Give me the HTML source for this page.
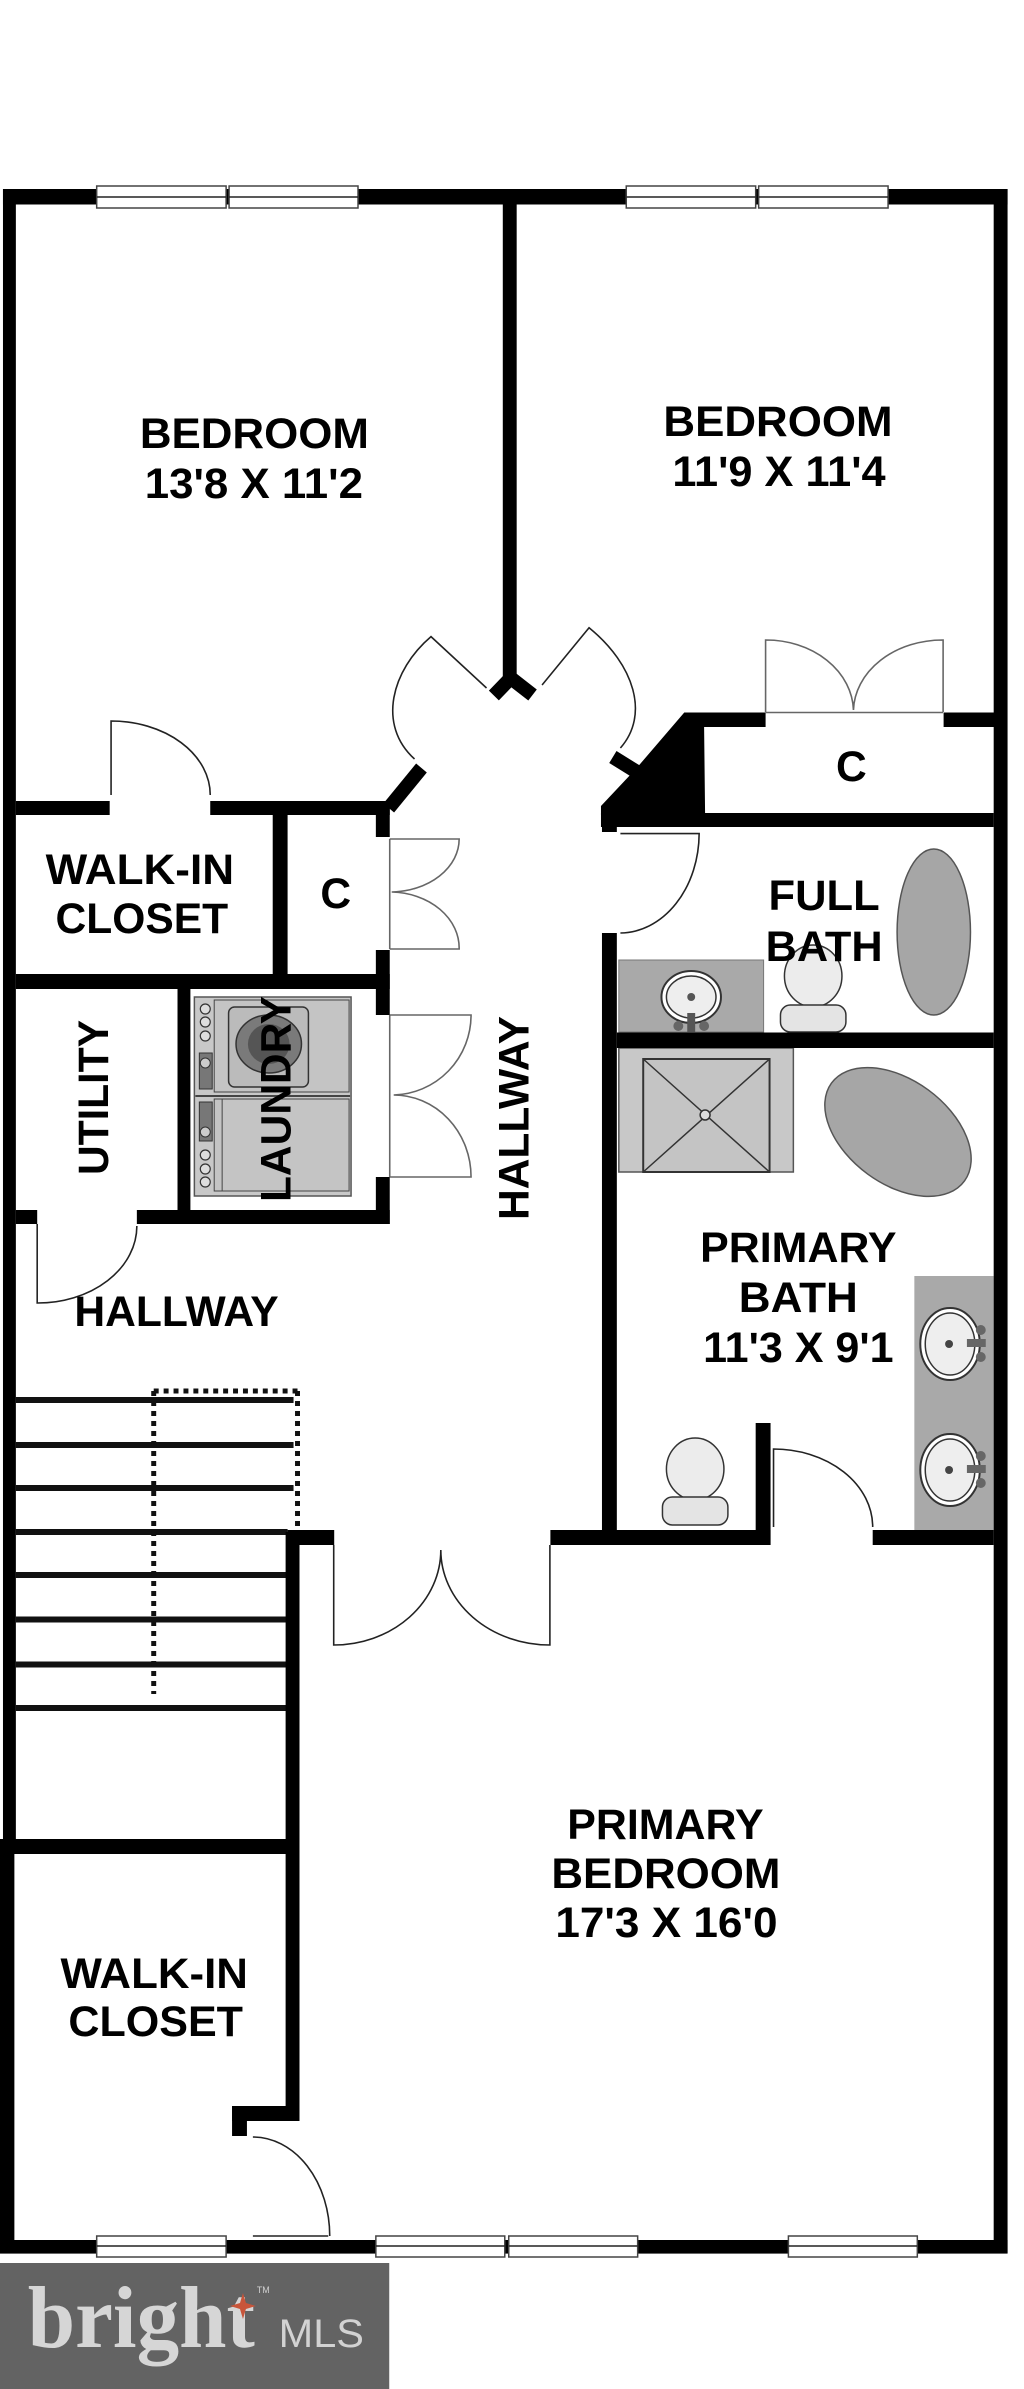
<!DOCTYPE html>
<html><head><meta charset="utf-8">
<style>
html,body{margin:0;padding:0;background:#fff}
svg{display:block}
text{font-family:"Liberation Sans",sans-serif;font-weight:bold;font-size:43px;fill:#000}
</style></head><body>
<svg width="1024" height="2389" viewBox="0 0 1024 2389" xmlns="http://www.w3.org/2000/svg">
<rect width="1024" height="2389" fill="#fff"/>
<g transform="scale(0.9917 1)">

<!-- fixtures -->
<rect x="624" y="960" width="146" height="72" fill="#a9a9a9" stroke="#777"/>
<ellipse cx="697" cy="997" rx="30" ry="26" fill="#fff" stroke="#333" stroke-width="2"/>
<ellipse cx="697" cy="997" rx="25" ry="21" fill="#eee" stroke="#333" stroke-width="1.5"/>
<circle cx="697" cy="997" r="4" fill="#555"/>
<rect x="693" y="1013" width="8" height="19" fill="#555"/>
<circle cx="684" cy="1026" r="5" fill="#666"/><circle cx="710" cy="1026" r="5" fill="#666"/>
<ellipse cx="941.6" cy="932" rx="37" ry="83" fill="#a6a6a6" stroke="#555" stroke-width="1.5"/>
<ellipse cx="820" cy="976" rx="29" ry="31" fill="#ececec" stroke="#333" stroke-width="1.5"/>
<rect x="787" y="1005" width="66" height="27" rx="10" fill="#e4e4e4" stroke="#333" stroke-width="1.5"/>

<rect x="624" y="1048" width="176" height="124" fill="#c8c8c8" stroke="#555" stroke-width="1.5"/>
<rect x="648.6" y="1059" width="127.4" height="113" fill="#c4c4c4" stroke="#333" stroke-width="2"/>
<path d="M648.6 1059L776 1172M776 1059L648.6 1172" stroke="#333" stroke-width="1.5"/>
<circle cx="711" cy="1115" r="5" fill="#ddd" stroke="#333" stroke-width="1.5"/>
<ellipse cx="905.5" cy="1132" rx="83" ry="52" transform="rotate(36 905.5 1132)" fill="#a6a6a6" stroke="#555" stroke-width="1.5"/>

<rect x="922" y="1276" width="80" height="254" fill="#a9a9a9"/>
<ellipse cx="958" cy="1344" rx="30" ry="36" fill="#fff" stroke="#333" stroke-width="2"/>
<ellipse cx="958" cy="1344" rx="25" ry="31" fill="#eee" stroke="#333" stroke-width="1.5"/>
<circle cx="957" cy="1344" r="4" fill="#444"/>
<rect x="975" y="1339" width="19" height="8" fill="#666"/>
<circle cx="989" cy="1330" r="5" fill="#666"/><circle cx="989" cy="1357" r="5" fill="#666"/>
<ellipse cx="958" cy="1470" rx="30" ry="36" fill="#fff" stroke="#333" stroke-width="2"/>
<ellipse cx="958" cy="1470" rx="25" ry="31" fill="#eee" stroke="#333" stroke-width="1.5"/>
<circle cx="957" cy="1470" r="4" fill="#444"/>
<rect x="975" y="1465" width="19" height="8" fill="#666"/>
<circle cx="989" cy="1456" r="5" fill="#666"/><circle cx="989" cy="1483" r="5" fill="#666"/>
<ellipse cx="701" cy="1469" rx="29" ry="31" fill="#ececec" stroke="#333" stroke-width="1.5"/>
<rect x="668" y="1497" width="66" height="28" rx="10" fill="#e4e4e4" stroke="#333" stroke-width="1.5"/>

<!-- laundry -->
<rect x="196" y="997" width="158" height="199" fill="#c8c8c8" stroke="#555" stroke-width="1.5"/>
<rect x="216" y="1000" width="136" height="92" fill="#c4c4c4" stroke="#444"/>
<rect x="216" y="1099" width="136" height="92" fill="#c4c4c4" stroke="#444"/>
<line x1="224" y1="1099" x2="224" y2="1191" stroke="#444"/>
<line x1="197" y1="1096" x2="353" y2="1096" stroke="#444" stroke-width="2"/>
<rect x="230.5" y="1007" width="80.5" height="80" rx="6" fill="#bbb" stroke="#333" stroke-width="1.5"/>
<ellipse cx="271" cy="1044" rx="33" ry="29" fill="#7a7a7a" stroke="#333" stroke-width="1.5"/>
<ellipse cx="271" cy="1044" rx="21" ry="20" fill="#555"/>
<g fill="#ddd" stroke="#333" stroke-width="1.2">
<circle cx="207" cy="1009" r="5"/><circle cx="207" cy="1022" r="5"/><circle cx="207" cy="1036" r="5"/>
<circle cx="207" cy="1155" r="5"/><circle cx="207" cy="1169" r="5"/><circle cx="207" cy="1182" r="5"/>
</g>
<rect x="201" y="1053" width="13" height="36" fill="#777" stroke="#333"/>
<rect x="201" y="1102" width="13" height="39" fill="#777" stroke="#333"/>
<circle cx="207" cy="1063" r="5" fill="#ccc" stroke="#333"/>
<circle cx="207" cy="1132" r="5" fill="#ccc" stroke="#333"/>

<!-- stairs -->
<g stroke="#111" stroke-width="6">
<path d="M16 1400H296M16 1445H296M16 1488H296M16 1532H290M16 1575H290M16 1619.5H290M16 1664.5H290M16 1708H290"/>
</g>
<g fill="none" stroke="#111" stroke-width="5" stroke-dasharray="5 5">
<path d="M155 1391H303"/>
<path d="M300 1391V1535"/>
<path d="M155 1391V1694"/>
</g>

<!-- door leaves and arcs -->
<g fill="none" stroke="#222" stroke-width="1.6">
<path d="M490.6 688L434.6 636.6C395 670 380 725 418 759"/>
<path d="M546.6 685L594 627.7C640 665 655 715 625.6 748"/>
<path d="M112 795V721A100 74 0 0 1 212 795"/>
<path d="M625.6 833.6H705A80 100 0 0 1 625.6 933"/>
<path d="M780 1527V1449A100 78 0 0 1 880 1527"/>
<path d="M37.5 1224V1303A100 77 0 0 0 138 1226"/>
<path d="M336.5 1545V1645A108 95 0 0 0 444.5 1550A110 95 0 0 0 554.5 1645V1545"/>
<path d="M255 2236H331M255 2137A77.5 99 0 0 1 332.5 2236"/>
</g>
<g fill="none" stroke="#666" stroke-width="1.6">
<path d="M772 712V640A88 72 0 0 1 860.6 710A90 72 0 0 1 951 640V712M772 712.500H951"/>
<path d="M393 839V949M393 839H463A70 53 0 0 1 395 892A70 56 0 0 1 463 949H393"/>
<path d="M393 1015V1177M393 1015H475A80 80 0 0 1 397 1095A78 82 0 0 1 475 1177H393"/>
</g>

<!-- walls -->
<g fill="#000">
<rect x="3" y="189" width="1013" height="15.500"/>
<rect x="3" y="189" width="13" height="1650"/>
<rect x="1002" y="189" width="14" height="2064"/>
<rect x="507" y="189" width="14" height="490"/>
<rect x="0" y="1839" width="14.500" height="414"/>
<rect x="0" y="1839" width="290" height="15"/>
<rect x="0" y="2240" width="1016" height="13.600"/>
<rect x="16" y="801" width="94.600" height="14"/>
<rect x="212" y="801" width="181" height="14"/>
<rect x="275" y="801" width="15" height="180"/>
<rect x="16" y="974" width="377" height="15"/>
<rect x="379" y="801" width="14" height="36"/>
<rect x="379" y="950" width="14" height="65"/>
<rect x="379" y="1177" width="14" height="47"/>
<rect x="138" y="1210" width="255" height="14"/>
<rect x="16" y="1210" width="21.500" height="14"/>
<rect x="179" y="989" width="13" height="235"/>
<rect x="690" y="712.500" width="82" height="14.500"/>
<rect x="951.500" y="712.500" width="52" height="14.500"/>
<polygon points="690,712.500 710,727 711,815 606,815 606,806 642,768"/>
<rect x="606" y="813" width="396" height="14"/>
<rect x="607" y="813" width="15" height="19"/>
<rect x="607" y="933" width="15" height="612"/>
<rect x="622" y="1032.500" width="380" height="15.500"/>
<rect x="762" y="1423" width="15" height="122"/>
<rect x="555" y="1530" width="222" height="15"/>
<rect x="880" y="1530" width="122" height="15"/>
<rect x="290" y="1530" width="47" height="15"/>
<rect x="288" y="1532" width="14" height="589"/>
<rect x="234" y="2106" width="68" height="15"/>
<rect x="234" y="2106" width="15" height="30"/>
</g>
<g fill="none" stroke="#000" stroke-width="14">
<path d="M498 695.500L515 678L537 695"/>
<path d="M425 768L392 808"/>
<path d="M618 757L644 773"/>
</g>

<!-- windows -->
<g fill="#fff" stroke="#444" stroke-width="1.500">
<rect x="97.500" y="186" width="130.500" height="22"/><rect x="231" y="186" width="130" height="22"/>
<rect x="631.500" y="186" width="130.500" height="22"/><rect x="765" y="186" width="130.500" height="22"/>
<rect x="97.500" y="2236" width="130.500" height="21"/><rect x="379" y="2236" width="130" height="21"/>
<rect x="513" y="2236" width="130" height="21"/><rect x="795" y="2236" width="130" height="21"/>
</g>
<g stroke="#222" stroke-width="1.500">
<path d="M97.500 197H228M231 197H361M631.500 197H762M765 197H895.500"/>
<path d="M97.500 2246H228M379 2246H509M513 2246H643M795 2246H925"/>
</g>

<!-- labels -->
<text x="141" y="448" textLength="231" lengthAdjust="spacingAndGlyphs">BEDROOM</text>
<text x="146" y="498" textLength="220" lengthAdjust="spacingAndGlyphs">13'8 X 11'2</text>
<text x="669" y="436" textLength="231" lengthAdjust="spacingAndGlyphs">BEDROOM</text>
<text x="678" y="486" textLength="215" lengthAdjust="spacingAndGlyphs">11'9 X 11'4</text>
<text x="843" y="781" textLength="31" lengthAdjust="spacingAndGlyphs">C</text>
<text x="46" y="884" textLength="190" lengthAdjust="spacingAndGlyphs">WALK-IN</text>
<text x="56" y="933" textLength="174" lengthAdjust="spacingAndGlyphs">CLOSET</text>
<text x="323" y="908" textLength="31" lengthAdjust="spacingAndGlyphs">C</text>
<text x="775" y="910" textLength="112" lengthAdjust="spacingAndGlyphs">FULL</text>
<text x="772" y="961" textLength="118" lengthAdjust="spacingAndGlyphs">BATH</text>
<text x="706" y="1262" textLength="198" lengthAdjust="spacingAndGlyphs">PRIMARY</text>
<text x="745" y="1312" textLength="120" lengthAdjust="spacingAndGlyphs">BATH</text>
<text x="709" y="1362" textLength="192" lengthAdjust="spacingAndGlyphs">11'3 X 9'1</text>
<text x="75" y="1326" textLength="206" lengthAdjust="spacingAndGlyphs">HALLWAY</text>
<text transform="translate(109 1175) rotate(-90)" textLength="155" lengthAdjust="spacingAndGlyphs">UTILITY</text>
<text transform="translate(293 1202) rotate(-90)" textLength="206" lengthAdjust="spacingAndGlyphs">LAUNDRY</text>
<text transform="translate(533 1220) rotate(-90)" textLength="204" lengthAdjust="spacingAndGlyphs">HALLWAY</text>
<text x="572" y="1839" textLength="198" lengthAdjust="spacingAndGlyphs">PRIMARY</text>
<text x="556" y="1888" textLength="231" lengthAdjust="spacingAndGlyphs">BEDROOM</text>
<text x="560" y="1937" textLength="224" lengthAdjust="spacingAndGlyphs">17'3 X 16'0</text>
<text x="61" y="1988" textLength="189" lengthAdjust="spacingAndGlyphs">WALK-IN</text>
<text x="69" y="2036" textLength="176" lengthAdjust="spacingAndGlyphs">CLOSET</text>

<!-- logo -->
<rect x="0" y="2263" width="392.500" height="126" fill="#636363"/>
<text x="28" y="2347" textLength="229" lengthAdjust="spacingAndGlyphs" style="font-family:'Liberation Serif',serif;font-size:88px;font-weight:bold;fill:#d6d6d6">bright</text>
<text x="281" y="2347" textLength="86" lengthAdjust="spacingAndGlyphs" style="font-size:40px;font-weight:normal;fill:#d2d2d2">MLS</text>
<text x="259" y="2293" style="font-size:9px;font-weight:normal;fill:#d2d2d2">TM</text>
<path d="M245 2293L248 2303L258 2306L248 2309L245 2319L242 2309L232 2306L242 2303Z" fill="#c8553a"/>
</g>
</svg>
</body></html>
